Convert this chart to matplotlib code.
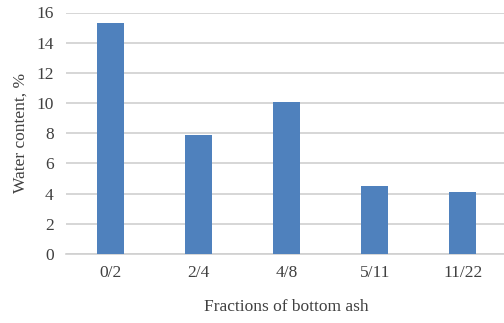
import numpy as np
import matplotlib.pyplot as plt

# Water content of bottom ash fractions
fractions = ["0/2", "2/4", "4/8", "5/11", "11/22"]
water_content = [15.3, 7.9, 10.1, 4.5, 4.1]
y_ticks = [0, 2, 4, 6, 8, 10, 12, 14, 16]

plt.rcParams["font.family"] = ["Liberation Serif", "DejaVu Serif"]

fig = plt.figure(figsize=(5.04, 3.23), dpi=100)
ax = fig.add_axes([66 / 504, 1 - 254 / 323, 441 / 504, 241.5 / 323])

x = np.arange(len(fractions))
ax.bar(x, water_content, width=0.306, color="#4f81bd", zorder=3)

ax.set_xlim(-0.5, len(fractions) - 0.5)
ax.set_ylim(0, 16)
ax.set_yticks(y_ticks)
ax.set_xticks(x)
ax.set_xticklabels(fractions)

ax.grid(True, axis="y", color="#d0d0d0", lw=1.2, zorder=0)
for s in ["top", "right", "left"]:
    ax.spines[s].set_visible(False)
ax.spines["bottom"].set_color("#d0d0d0")
ax.spines["bottom"].set_linewidth(1.2)
ax.tick_params(length=0, labelsize=12.5, colors="#404040", pad=8)
ax.tick_params(axis="y", pad=9)

ax.set_xlabel("Fractions of bottom ash", fontsize=12.5, color="#404040", labelpad=13)
ax.set_ylabel("Water content, %", fontsize=12.5, color="#404040", labelpad=5)

fig.savefig("out.png", dpi=100)
